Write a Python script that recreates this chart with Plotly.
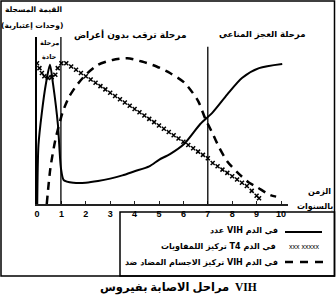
import plotly.graph_objects as go

# ---- data (years, arbitrary units) ----
vih_years = [0.01, 0.06, 0.2, 0.36, 0.53, 0.66, 0.86, 0.98, 1.1, 1.5, 2.0, 2.5, 3.0, 3.5, 4.0,
             4.6, 5.0, 5.45, 6.05, 6.7, 7.2, 7.8, 8.4, 9.1, 10.05]
vih_values = [0, 36, 56, 73, 85, 73, 48, 22, 14.5, 13, 13, 14, 15.5, 17.5, 20,
              23, 27, 30.5, 37, 49, 56, 67, 77, 83, 85.5]

t4_years = [0.0, 0.1, 0.2, 0.3, 0.45, 0.6, 0.75, 0.85, 1.0, 1.2, 1.4, 1.6, 1.8, 2.0, 2.2, 2.4,
            2.6, 2.8, 3.0, 3.2, 3.4, 3.6, 3.8, 4.0, 4.2, 4.4, 4.6, 4.8, 5.0, 5.2, 5.4, 5.6,
            5.8, 6.0, 6.2, 6.4, 6.6, 6.8, 7.0, 7.2, 7.4, 7.6, 7.8, 8.0, 8.2, 8.4, 8.6, 8.8,
            9.0, 9.1]
t4_values = [86, 83, 80, 78, 77, 77.5, 79, 83, 86, 86, 84, 82, 80, 78, 76, 74,
             72, 70, 68, 66, 64, 62, 60, 58, 56, 54, 52, 50, 48, 46, 44, 42,
             40, 38, 36, 34, 32, 30, 28, 25, 23, 21, 19, 17, 15, 13, 11, 8,
             5, 3.5]

ab_years = [0.4, 0.55, 0.75, 1.05, 1.3, 1.6, 2.0, 2.5, 3.1, 3.7, 4.3, 4.9, 5.45, 6.05,
            6.6, 6.9, 7.2, 7.45, 7.8, 8.2, 8.65, 9.05, 9.55, 9.8]
ab_values = [0, 22, 39, 56, 65, 72, 79, 85, 88, 89, 87, 84, 80, 74,
             63, 52, 43, 35, 26, 19.5, 13.5, 10, 5.5, 4.5]

tick_years = list(range(11))
tick_labels = [str(v) for v in tick_years]

phase_acute_end = 0.98
phase_aids_start = 7

# ---- geometry helpers (pixel -> paper) ----
L, R, T, B = 37, 48, 37, 94
W, H = 336, 298
PW, PH = W - L - R, H - T - B


def pxx(p):
    return (p - L) / PW


def pxy(p):
    return (T + PH - p) / PH


AR = "DejaVu Sans"

fig = go.Figure()
fig.add_trace(go.Scatter(x=vih_years, y=vih_values, mode="lines",
                         line=dict(color="black", width=2, shape="spline", smoothing=0.7),
                         name="VIH", showlegend=False))
fig.add_trace(go.Scatter(x=t4_years, y=t4_values, mode="markers",
                         marker=dict(symbol="x-thin", size=4, line=dict(color="black", width=1.5)),
                         name="T4", showlegend=False))
fig.add_trace(go.Scatter(x=ab_years, y=ab_values, mode="lines",
                         line=dict(color="black", width=2.5, dash="8px,6px", shape="spline", smoothing=0.7),
                         name="AB", showlegend=False))

shapes = [
    # phase lines
    dict(type="line", xref="x", yref="y", x0=phase_acute_end, x1=phase_acute_end, y0=0, y1=102,
         line=dict(color="black", width=1.3)),
    dict(type="line", xref="x", yref="y", x0=phase_aids_start, x1=phase_aids_start, y0=0, y1=96,
         line=dict(color="black", width=1.3)),
    # outer frame
    dict(type="rect", xref="paper", yref="paper", x0=pxx(1), x1=pxx(334.5), y0=pxy(276), y1=pxy(1),
         line=dict(color="black", width=1.5)),
    # legend box
    dict(type="rect", xref="paper", yref="paper", x0=pxx(120), x1=pxx(334.5), y0=pxy(276), y1=pxy(212),
         line=dict(color="black", width=1.5)),
    # legend samples
    dict(type="line", xref="paper", yref="paper", x0=pxx(285), x1=pxx(322), y0=pxy(232), y1=pxy(232),
         line=dict(color="black", width=2)),
    dict(type="line", xref="paper", yref="paper", x0=pxx(285), x1=pxx(323), y0=pxy(262), y1=pxy(262),
         line=dict(color="black", width=2.5, dash="8px,7px")),
]


def ann(text, x, y, size=9, bold=True, family=AR, xanchor="center"):
    return dict(text=("<b>%s</b>" % text) if bold else text, x=pxx(x), y=pxy(y), xref="paper", yref="paper",
                showarrow=False, xanchor=xanchor, yanchor="middle",
                font=dict(family=family, size=size, color="black"))


annotations = [
    ann("القيمة المسجلة", 33, 10, 7.5),
    ann("(وحدات إعتبارية)", 32, 25, 7.5),
    ann("مرحلة", 49, 43, 6.5),
    ann("حادة", 49, 57, 6.5),
    ann("مرحلة ترقب بدون أعراض", 130, 35, 9),
    ann("مرحلة العجز المناعي", 262, 35, 8.5),
    ann("الزمن", 319, 191, 8),
    ann("بالسنوات", 315, 206, 8),
    ann("عدد VIH في الدم", 280, 230, 8, xanchor="right"),
    ann("تركيز اللمفاويات T4 في الدم", 278, 246, 8, xanchor="right"),
    ann("تركيز الاجسام المضاد ضد VIH في الدم", 280, 262, 8, xanchor="right"),
    ann("xxx xxxxx", 304, 246, 7, bold=False, family="Liberation Sans"),
    dict(text="<b>مراحل الاصابة بفيروس  VIH</b>", x=pxx(178), y=pxy(288), xref="paper", yref="paper",
         showarrow=False, xanchor="center", yanchor="middle",
         font=dict(family="Liberation Serif, DejaVu Sans", size=11.5, color="black")),
    dict(text="<b>الإصابة</b>", x=0, y=(T + PH - 218) / PH * 102, xref="x", yref="y",
         showarrow=True, ax=0, ay=34, arrowhead=2, arrowsize=1, arrowwidth=1, arrowcolor="black",
         standoff=0, font=dict(family=AR, size=8, color="black")),
]

fig.update_layout(
    width=W, height=H, margin=dict(l=L, r=R, t=T, b=B, autoexpand=False),
    paper_bgcolor="white", plot_bgcolor="white",
    xaxis=dict(range=[0, PW / 24.4], showgrid=False, zeroline=False, showline=True,
               linecolor="#222", linewidth=1.5, ticks="inside", ticklen=3, tickwidth=1, tickcolor="#222",
               tickvals=tick_years, ticktext=["<b>%s</b>" % t for t in tick_labels],
               tickfont=dict(family="Liberation Sans", size=9, color="black")),
    yaxis=dict(range=[0, 102], showgrid=False, zeroline=False, showline=True,
               linecolor="black", linewidth=1.5, showticklabels=False, ticks=""),
    shapes=shapes, annotations=annotations, showlegend=False,
)

fig.write_html("out.html")
